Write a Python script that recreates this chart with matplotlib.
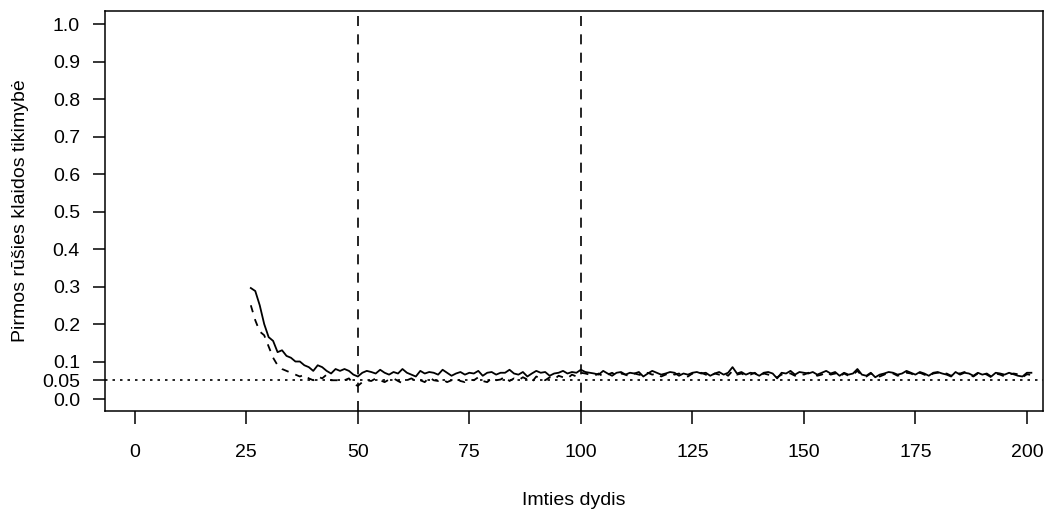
import matplotlib.pyplot as plt
import numpy as np

plt.rcParams['font.family'] = ['Liberation Sans', 'DejaVu Sans']

# imties dydis n = 26..201
n = np.arange(26, 202)

# pirmos rusies klaidos tikimybe, du testai (nuskaityta nuo paveikslo)
solid = [0.296, 0.288, 0.250, 0.200, 0.165, 0.155, 0.125, 0.130, 0.115, 0.110,
         0.100, 0.100, 0.090, 0.085, 0.075, 0.090, 0.085, 0.075, 0.068, 0.080,
         0.075, 0.080, 0.075, 0.065, 0.060,
         0.070, 0.075, 0.072, 0.068, 0.078, 0.070, 0.065, 0.072, 0.068, 0.080,
         0.070, 0.065, 0.060, 0.075, 0.068, 0.072, 0.070, 0.065, 0.078, 0.070,
         0.062, 0.068, 0.072, 0.065, 0.070, 0.068, 0.075, 0.062, 0.070, 0.072,
         0.065, 0.070, 0.070, 0.078, 0.068, 0.065, 0.072, 0.060, 0.068, 0.075,
         0.070, 0.072, 0.062, 0.068, 0.070, 0.075, 0.068, 0.072, 0.070, 0.078,
         0.072, 0.070, 0.068, 0.065, 0.075, 0.068, 0.062, 0.070, 0.072, 0.065,
         0.070, 0.068, 0.072, 0.060, 0.068, 0.075, 0.070, 0.065, 0.068, 0.072,
         0.070, 0.062, 0.068, 0.065, 0.070, 0.072, 0.068, 0.070, 0.062, 0.068,
         0.072, 0.065, 0.070, 0.085, 0.068, 0.072, 0.065, 0.070, 0.068, 0.062,
         0.070, 0.072, 0.068, 0.055, 0.070, 0.068, 0.075, 0.065, 0.072, 0.070,
         0.068, 0.072, 0.065, 0.070, 0.075, 0.068, 0.072, 0.062, 0.070, 0.065,
         0.068, 0.080, 0.065, 0.062, 0.070, 0.058, 0.065, 0.068, 0.072, 0.070,
         0.065, 0.068, 0.075, 0.070, 0.065, 0.072, 0.068, 0.062, 0.070, 0.072,
         0.068, 0.065, 0.060, 0.072, 0.065, 0.070, 0.068, 0.062, 0.070, 0.065,
         0.068, 0.060, 0.070, 0.068, 0.065, 0.070, 0.066, 0.062, 0.060, 0.070,
         0.070]
dashed = [0.250, 0.210, 0.180, 0.170, 0.140, 0.110, 0.090, 0.080, 0.075, 0.070,
          0.065, 0.060, 0.065, 0.055, 0.050, 0.060, 0.055, 0.065, 0.050, 0.050,
          0.050, 0.050, 0.055, 0.040, 0.035,
          0.045, 0.050, 0.048, 0.055, 0.050, 0.045, 0.052, 0.055, 0.048, 0.042,
          0.050, 0.055, 0.048, 0.050, 0.045, 0.058, 0.050, 0.048, 0.052, 0.045,
          0.050, 0.055, 0.048, 0.045, 0.052, 0.050, 0.058, 0.048, 0.045, 0.055,
          0.050, 0.052, 0.060, 0.048, 0.055, 0.050, 0.058, 0.052, 0.045, 0.060,
          0.055, 0.050, 0.058, 0.052, 0.062, 0.058, 0.055, 0.065, 0.060, 0.070,
          0.068, 0.065, 0.062, 0.068, 0.060, 0.065, 0.070, 0.062, 0.068, 0.065,
          0.060, 0.068, 0.065, 0.062, 0.070, 0.065, 0.068, 0.060, 0.065, 0.070,
          0.065, 0.068, 0.062, 0.060, 0.068, 0.065, 0.070, 0.065, 0.060, 0.068,
          0.065, 0.070, 0.062, 0.075, 0.065, 0.068, 0.062, 0.065, 0.070, 0.060,
          0.068, 0.065, 0.062, 0.058, 0.065, 0.070, 0.068, 0.062, 0.068, 0.065,
          0.070, 0.068, 0.062, 0.065, 0.072, 0.065, 0.068, 0.060, 0.068, 0.062,
          0.065, 0.075, 0.062, 0.060, 0.068, 0.062, 0.060, 0.065, 0.070, 0.068,
          0.062, 0.065, 0.070, 0.068, 0.062, 0.070, 0.065, 0.060, 0.068, 0.070,
          0.065, 0.068, 0.062, 0.070, 0.068, 0.072, 0.065, 0.060, 0.068, 0.070,
          0.065, 0.058, 0.068, 0.065, 0.060, 0.065, 0.068, 0.066, 0.058, 0.066,
          0.064]

xticks = [0, 25, 50, 75, 100, 125, 150, 175, 200]
yticks = [0.0, 0.05, 0.1, 0.2, 0.3, 0.4, 0.5, 0.6, 0.7, 0.8, 0.9, 1.0]
ylabels = ['0.0', '0.05', '0.1', '0.2', '0.3', '0.4', '0.5', '0.6', '0.7', '0.8', '0.9', '1.0']

fig = plt.figure(figsize=(10.58, 5.11), dpi=100)
ax = fig.add_axes([0.0992, 0.1957, 0.8866, 0.7828])

ax.plot(n, solid, color='black', lw=1.3)
ax.plot(n, dashed, color='black', lw=1.3, linestyle=(0, (4, 4)))
ax.axhline(0.05, color='black', lw=1.2, linestyle=(0, (1.5, 3)))
for v in [50, 100]:
    ax.axvline(v, color='black', lw=1.2, linestyle=(0, (6, 5)))

ax.set_xlim(-6.7, 203.6)
ax.set_ylim(-0.032, 1.035)
ax.set_xticks(xticks)
ax.set_xticklabels([str(t) for t in xticks])
ax.set_yticks(yticks)
ax.set_yticklabels(ylabels)
ax.tick_params(direction='out', length=9, width=1.1, labelsize=14)
ax.tick_params(axis='y', pad=9)
ax.tick_params(axis='x', pad=15)
for s in ax.spines.values():
    s.set_linewidth(1.1)

ax.set_xlabel('Imties dydis', fontsize=14, labelpad=22)
ax.set_ylabel('Pirmos rūšies klaidos tikimybė', fontsize=14, labelpad=9)

fig.savefig('out.png', dpi=100)
